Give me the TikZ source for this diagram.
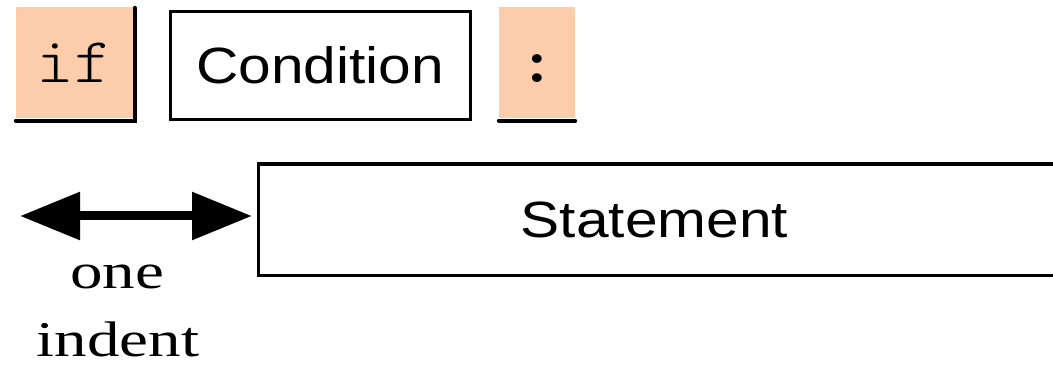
\documentclass[tikz,border=0pt]{standalone}
\usepackage{fontspec}
\setmainfont{Liberation Serif}[FakeStretch=1.3]
\newfontfamily\helvfont{Liberation Sans}[FakeStretch=1.15]
\newfontfamily\codefont{lmmonolt10-regular.otf}[FakeStretch=1.12, BoldFont=lmmonolt10-bold.otf]
\usepackage{tikz}
\usetikzlibrary{shapes, arrows.meta, positioning, calc}
\definecolor{tokpeach}{RGB}{253,204,170}
\tikzset{
	tok/.style={fill=tokpeach, inner sep=0pt, minimum height=111pt, text height=40pt, text depth=0pt, font=\codefont\fontsize{64}{64}\selectfont},
	slot/.style={draw, line width=3.3pt, inner sep=0pt, font=\helvfont\fontsize{51}{51}\selectfont},
	tokedge/.style={line width=4pt, line cap=round},
	indentarrow/.style={line width=9pt, arrows={Triangle[length=60pt,width=46pt]-Triangle[length=60pt,width=46pt]}},
	word/.style={anchor=base, inner sep=0pt, font=\fontsize{50}{50}\selectfont}
}

\begin{document}
\begin{tikzpicture}[x=1pt, y=-1pt]
	\useasboundingbox (0,0) rectangle (1053,371);
	\node[tok, minimum width=117pt] (iftok) at (74.5,62.5) {if};
	\node[slot, minimum width=300pt, minimum height=108pt] (cond) at (320.3,65.6) {Condition};
	\node[tok, minimum width=76pt] (colon) at (537,62.5) {\bfseries :};
	\draw[tokedge] ($(iftok.north east)+(1.5,1)$) |- ($(iftok.south west)+(0,2.5)$);
	\draw[tokedge] ($(colon.south west)+(0,2.5)$) -- ($(colon.south east)+(0,2.5)$);
	\node[slot, minimum width=830pt, minimum height=111.7pt, anchor=west] (stmt) at (256.7,220) {};
	\node[slot, draw=none] (stmtlbl) at (654.5,220) {Statement};
	\coordinate (indentL) at (20,216);
	\draw[indentarrow] (indentL) -- ([xshift=-4.7pt]stmt.west |- indentL);
	\node[word] (one) at (117,289) {one};
	\node[word] (indentword) at (118,357) {indent};
\end{tikzpicture}
\end{document}
